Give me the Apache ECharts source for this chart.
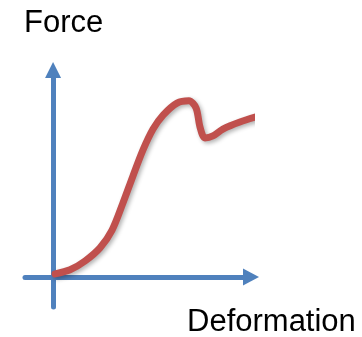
<!DOCTYPE html>
<html>
<head>
<meta charset="utf-8">
<script src="https://cdn.jsdelivr.net/npm/echarts@6/dist/echarts.min.js"></script>
<style>
  html, body { margin: 0; padding: 0; background: #fff; }
  #chart { width: 362px; height: 337px; }
</style>
</head>
<body>
<div id="chart"></div>
<script>
// deformation (x) and force (y), arbitrary units
const deformation = [1, 8.3, 15.6, 22.9, 28.8, 34.1, 39, 43.9, 48.8, 53.7, 60.5, 66.3, 69.8, 71.7, 74.1, 78, 82.9, 91.2, 101.5]
const force = [1.4, 3.3, 7.4, 13.5, 21.8, 34.4, 47, 59.1, 68.8, 75.3, 80.9, 82, 78.6, 69.8, 64.7, 65.6, 68.8, 72.1, 75.2]

const axisColor = '#4F81BD'
const lineColor = '#C0504D'
const labelFont = { fontFamily: 'Liberation Sans', fontSize: 31, fontWeight: 'normal', color: '#000' }

const chart = echarts.init(document.getElementById('chart'))

chart.setOption({
    animation: false,
    title: [
        { text: 'Force', left: 24, top: 8, padding: 0, textStyle: labelFont },
        { text: 'Deformation', left: 187, top: 307, padding: 0, textStyle: labelFont }
    ],
    grid: {
        left: 25,
        right: 111,
        top: 70,
        bottom: 30
    },
    xAxis: {
        type: 'value',
        min: -13.7,
        max: 96.6,
        axisLine: {
            onZero: true,
            symbol: ['none', 'triangle'],
            symbolSize: [17, 16],
            lineStyle: { color: axisColor, width: 5 }
        },
        axisTick: { show: false },
        axisLabel: { show: false },
        splitLine: { show: false }
    },
    yAxis: {
        type: 'value',
        min: -14,
        max: 96.3,
        axisLine: {
            show: true,
            onZero: true,
            symbol: ['none', 'triangle'],
            symbolSize: [16, 16],
            lineStyle: { color: axisColor, width: 5 }
        },
        axisTick: { show: false },
        axisLabel: { show: false },
        splitLine: { show: false }
    },
    series: [
        {
            type: 'line',
            data: deformation.map((d, i) => [d, force[i]]),
            smooth: 0.3,
            clip: false,
            showSymbol: false,
            lineStyle: {
                color: lineColor,
                width: 7,
                cap: 'round',
                shadowColor: 'rgba(0,0,0,0.3)',
                shadowBlur: 4,
                shadowOffsetX: 2,
                shadowOffsetY: 2
            }
        }
    ]
})
</script>
</body>
</html>
